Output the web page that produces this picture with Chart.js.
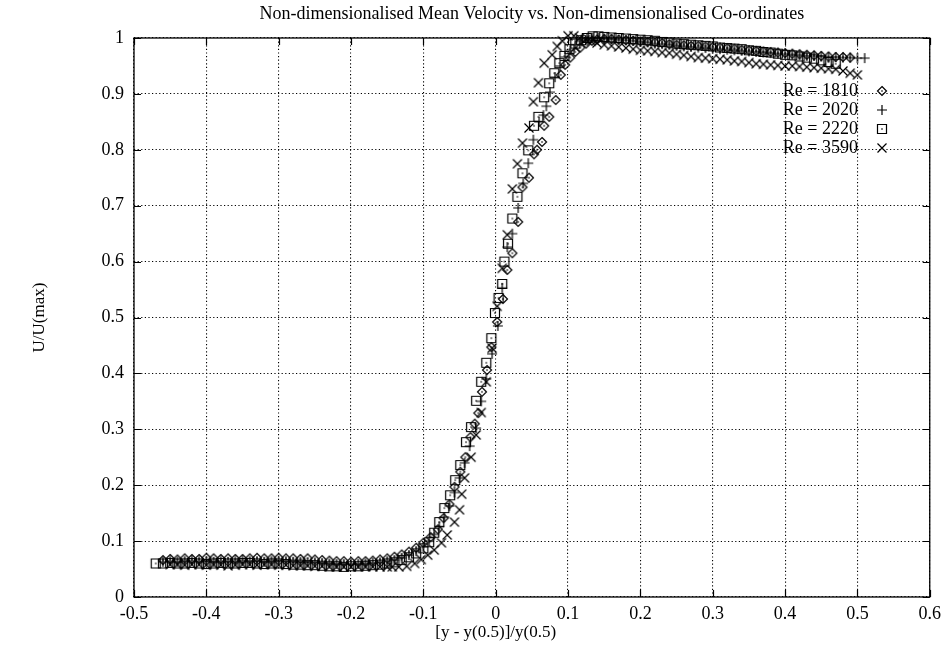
<!DOCTYPE html>
<html>
<head>
<meta charset="utf-8">
<script src="https://cdn.jsdelivr.net/npm/chart.js@4"></script>
<style>
  html, body { margin: 0; padding: 0; background: #fff; }
  #wrap { width: 947px; height: 648px; position: relative; }
</style>
</head>
<body>
<div id="wrap"><canvas id="velChart"></canvas></div>
<script>
const chartTitle = "Non-dimensionalised Mean Velocity vs. Non-dimensionalised Co-ordinates";
const xAxisTitle = "[y - y(0.5)]/y(0.5)";
const yAxisTitle = "U/U(max)";
const seriesLabels = ["Re = 1810", "Re = 2020", "Re = 2220", "Re = 3590"];
const xTickLabels = ["-0.5", "-0.4", "-0.3", "-0.2", "-0.1", "0", "0.1", "0.2", "0.3", "0.4", "0.5", "0.6"];
const yTickLabels = ["0", "0.1", "0.2", "0.3", "0.4", "0.5", "0.6", "0.7", "0.8", "0.9", "1"];

// [x, U/Umax] pairs
const re1810 = [[-0.46,0.066],[-0.45,0.068],[-0.44,0.067],[-0.43,0.069],[-0.42,0.068],[-0.41,0.068],[-0.40,0.070],[-0.39,0.069],[-0.38,0.068],[-0.37,0.069],[-0.36,0.068],[-0.35,0.068],[-0.34,0.069],[-0.33,0.070],[-0.32,0.069],[-0.31,0.069],[-0.30,0.070],[-0.29,0.069],[-0.28,0.069],[-0.27,0.068],[-0.26,0.069],[-0.25,0.067],[-0.24,0.066],[-0.23,0.065],[-0.22,0.064],[-0.21,0.064],[-0.20,0.063],[-0.19,0.064],[-0.18,0.064],[-0.17,0.065],[-0.16,0.067],[-0.15,0.069],[-0.14,0.072],[-0.13,0.076],[-0.12,0.081],[-0.11,0.088],[-0.10,0.097],[-0.09,0.107],[-0.08,0.121],[-0.072,0.141],[-0.064,0.166],[-0.057,0.197],[-0.049,0.224],[-0.042,0.250],[-0.035,0.286],[-0.029,0.310],[-0.024,0.329],[-0.019,0.367],[-0.012,0.406],[-0.006,0.447],[0.002,0.492],[0.010,0.533],[0.016,0.585],[0.023,0.615],[0.031,0.671],[0.037,0.733],[0.046,0.750],[0.053,0.792],[0.057,0.800],[0.064,0.814],[0.067,0.843],[0.074,0.859],[0.083,0.889],[0.090,0.934],[0.096,0.952],[0.103,0.965],[0.110,0.975],[0.117,0.983],[0.125,0.990],[0.133,0.995],[0.140,0.997],[0.150,0.998],[0.160,0.998],[0.170,0.997],[0.180,0.996],[0.190,0.995],[0.200,0.994],[0.210,0.993],[0.220,0.992],[0.230,0.991],[0.240,0.989],[0.250,0.988],[0.260,0.987],[0.270,0.986],[0.280,0.986],[0.290,0.985],[0.300,0.984],[0.310,0.983],[0.320,0.982],[0.330,0.981],[0.340,0.979],[0.350,0.978],[0.360,0.977],[0.370,0.976],[0.380,0.975],[0.390,0.974],[0.400,0.973],[0.410,0.972],[0.420,0.971],[0.430,0.970],[0.440,0.969],[0.450,0.968],[0.460,0.967],[0.470,0.966],[0.480,0.966],[0.490,0.965]];

const re2020 = [[-0.46,0.063],[-0.45,0.064],[-0.44,0.063],[-0.43,0.064],[-0.42,0.065],[-0.41,0.064],[-0.40,0.064],[-0.39,0.063],[-0.38,0.064],[-0.37,0.063],[-0.36,0.064],[-0.35,0.065],[-0.34,0.064],[-0.33,0.064],[-0.32,0.063],[-0.31,0.064],[-0.30,0.065],[-0.29,0.064],[-0.28,0.063],[-0.27,0.063],[-0.26,0.062],[-0.25,0.062],[-0.24,0.061],[-0.23,0.060],[-0.22,0.059],[-0.21,0.059],[-0.20,0.059],[-0.19,0.059],[-0.18,0.060],[-0.17,0.061],[-0.16,0.062],[-0.15,0.064],[-0.14,0.066],[-0.13,0.070],[-0.12,0.075],[-0.11,0.082],[-0.10,0.090],[-0.092,0.100],[-0.085,0.112],[-0.078,0.126],[-0.071,0.143],[-0.064,0.163],[-0.057,0.187],[-0.050,0.213],[-0.043,0.240],[-0.036,0.270],[-0.027,0.302],[-0.020,0.350],[-0.013,0.390],[-0.005,0.435],[0.003,0.485],[0.009,0.553],[0.016,0.626],[0.023,0.650],[0.031,0.696],[0.038,0.740],[0.045,0.776],[0.052,0.818],[0.060,0.850],[0.066,0.862],[0.070,0.878],[0.075,0.903],[0.082,0.930],[0.089,0.950],[0.096,0.966],[0.103,0.978],[0.110,0.988],[0.118,0.994],[0.126,0.998],[0.134,1.000],[0.142,1.000],[0.150,0.999],[0.160,0.998],[0.170,0.997],[0.180,0.996],[0.190,0.995],[0.200,0.993],[0.210,0.992],[0.220,0.990],[0.230,0.989],[0.240,0.988],[0.250,0.986],[0.260,0.985],[0.270,0.984],[0.280,0.983],[0.290,0.982],[0.300,0.981],[0.310,0.980],[0.320,0.979],[0.330,0.978],[0.340,0.977],[0.350,0.976],[0.360,0.975],[0.370,0.974],[0.380,0.973],[0.390,0.972],[0.400,0.971],[0.410,0.970],[0.420,0.969],[0.430,0.968],[0.440,0.968],[0.450,0.967],[0.460,0.966],[0.470,0.966],[0.480,0.965],[0.490,0.965],[0.500,0.964],[0.510,0.964]];

const re2220 = [[-0.47,0.060],[-0.46,0.060],[-0.45,0.061],[-0.44,0.060],[-0.43,0.060],[-0.42,0.061],[-0.41,0.060],[-0.40,0.059],[-0.39,0.060],[-0.38,0.061],[-0.37,0.060],[-0.36,0.060],[-0.35,0.061],[-0.34,0.061],[-0.33,0.060],[-0.32,0.059],[-0.31,0.060],[-0.30,0.060],[-0.29,0.059],[-0.28,0.058],[-0.27,0.058],[-0.26,0.057],[-0.25,0.057],[-0.24,0.056],[-0.23,0.055],[-0.22,0.055],[-0.21,0.054],[-0.20,0.055],[-0.19,0.055],[-0.18,0.056],[-0.17,0.057],[-0.16,0.058],[-0.15,0.060],[-0.14,0.062],[-0.13,0.066],[-0.12,0.071],[-0.11,0.078],[-0.10,0.087],[-0.092,0.098],[-0.085,0.115],[-0.078,0.134],[-0.071,0.159],[-0.063,0.182],[-0.056,0.209],[-0.049,0.236],[-0.041,0.277],[-0.034,0.304],[-0.027,0.351],[-0.020,0.385],[-0.013,0.419],[-0.006,0.463],[-0.001,0.508],[0.004,0.535],[0.009,0.560],[0.012,0.600],[0.017,0.632],[0.023,0.677],[0.030,0.716],[0.037,0.758],[0.045,0.799],[0.053,0.843],[0.059,0.859],[0.067,0.894],[0.074,0.919],[0.081,0.937],[0.088,0.955],[0.095,0.968],[0.102,0.980],[0.110,0.990],[0.118,0.996],[0.126,1.000],[0.134,1.003],[0.142,1.003],[0.150,1.002],[0.160,1.001],[0.170,1.000],[0.180,0.999],[0.190,0.998],[0.200,0.997],[0.210,0.996],[0.220,0.995],[0.230,0.993],[0.240,0.992],[0.250,0.990],[0.260,0.989],[0.270,0.988],[0.280,0.987],[0.290,0.986],[0.300,0.985],[0.310,0.983],[0.320,0.982],[0.330,0.981],[0.340,0.980],[0.350,0.978],[0.360,0.977],[0.370,0.975],[0.380,0.974],[0.390,0.972],[0.400,0.970],[0.410,0.969],[0.420,0.967],[0.430,0.965],[0.440,0.963],[0.450,0.960],[0.460,0.957],[0.470,0.954]];

const re3590 = [[-0.45,0.058],[-0.44,0.058],[-0.43,0.057],[-0.42,0.058],[-0.41,0.058],[-0.40,0.057],[-0.39,0.058],[-0.38,0.057],[-0.37,0.056],[-0.36,0.057],[-0.35,0.058],[-0.34,0.058],[-0.33,0.057],[-0.32,0.058],[-0.31,0.058],[-0.30,0.057],[-0.29,0.057],[-0.28,0.056],[-0.27,0.056],[-0.26,0.056],[-0.25,0.055],[-0.24,0.055],[-0.23,0.054],[-0.22,0.054],[-0.21,0.054],[-0.20,0.054],[-0.19,0.054],[-0.18,0.054],[-0.17,0.054],[-0.16,0.054],[-0.15,0.054],[-0.143,0.054],[-0.134,0.054],[-0.123,0.055],[-0.112,0.060],[-0.103,0.067],[-0.094,0.075],[-0.085,0.084],[-0.075,0.097],[-0.067,0.111],[-0.057,0.134],[-0.050,0.156],[-0.047,0.184],[-0.043,0.213],[-0.034,0.250],[-0.027,0.290],[-0.020,0.330],[-0.013,0.385],[-0.005,0.445],[0.002,0.520],[0.009,0.588],[0.016,0.648],[0.023,0.730],[0.030,0.775],[0.037,0.812],[0.046,0.839],[0.052,0.886],[0.059,0.920],[0.067,0.955],[0.078,0.970],[0.085,0.985],[0.092,0.995],[0.100,1.004],[0.108,1.004],[0.116,1.000],[0.124,0.997],[0.132,0.994],[0.140,0.991],[0.150,0.988],[0.160,0.986],[0.170,0.984],[0.180,0.982],[0.190,0.980],[0.200,0.978],[0.210,0.977],[0.220,0.976],[0.230,0.974],[0.240,0.973],[0.250,0.971],[0.260,0.969],[0.270,0.967],[0.280,0.965],[0.290,0.964],[0.300,0.963],[0.310,0.962],[0.320,0.961],[0.330,0.959],[0.340,0.958],[0.350,0.956],[0.360,0.954],[0.370,0.953],[0.380,0.952],[0.390,0.951],[0.400,0.950],[0.410,0.950],[0.420,0.949],[0.430,0.948],[0.440,0.947],[0.450,0.946],[0.460,0.945],[0.470,0.944],[0.480,0.941],[0.490,0.937],[0.500,0.934]];

const seriesData = [re1810, re2020, re2220, re3590];
const markerKinds = ["diamond", "plus", "square", "cross"];

const FONT = "'Liberation Serif', 'Times New Roman', serif";

// gnuplot style point markers drawn once onto small canvases
function makeMarker(kind) {
  const c = document.createElement("canvas");
  c.width = 14; c.height = 14;
  const g = c.getContext("2d");
  const m = 7;
  g.strokeStyle = "#000";
  g.fillStyle = "#000";
  g.lineWidth = 1.2;
  g.beginPath();
  if (kind === "diamond") {
    g.moveTo(m, m - 4.5); g.lineTo(m + 4.5, m); g.lineTo(m, m + 4.5); g.lineTo(m - 4.5, m); g.closePath();
  } else if (kind === "plus") {
    g.moveTo(m - 5, m); g.lineTo(m + 5, m); g.moveTo(m, m - 5); g.lineTo(m, m + 5);
  } else if (kind === "square") {
    g.rect(m - 4.5, m - 4.5, 9, 9);
  } else {
    g.moveTo(m - 4.5, m - 4.5); g.lineTo(m + 4.5, m + 4.5); g.moveTo(m + 4.5, m - 4.5); g.lineTo(m - 4.5, m + 4.5);
  }
  g.stroke();
  if (kind === "square" || kind === "diamond") g.fillRect(m - 0.7, m - 0.7, 1.4, 1.4);
  return c;
}
const markers = markerKinds.map(makeMarker);

const datasets = seriesData.map((pts, i) => ({
  label: seriesLabels[i],
  data: pts.map(p => ({ x: p[0], y: p[1] })),
  pointStyle: markers[i],
  pointRadius: 5,
  pointHoverRadius: 5,
  showLine: false,
  clip: false
}));

// frame, inward ticks, titles and key, done by hand like gnuplot
const gnuplotDecor = {
  id: "gnuplotDecor",
  beforeDatasetsDraw(chart) {
    const { ctx, chartArea: a, scales } = chart;
    ctx.save();
    ctx.strokeStyle = "#000";
    ctx.lineWidth = 1.3;
    ctx.strokeRect(a.left, a.top, a.right - a.left, a.bottom - a.top);
    ctx.lineWidth = 1.2;
    ctx.beginPath();
    scales.x.ticks.forEach(t => {
      const px = Math.round(scales.x.getPixelForValue(t.value)) + 0.5;
      ctx.moveTo(px, a.bottom); ctx.lineTo(px, a.bottom - 7);
      ctx.moveTo(px, a.top); ctx.lineTo(px, a.top + 7);
    });
    scales.y.ticks.forEach(t => {
      const py = Math.round(scales.y.getPixelForValue(t.value)) + 0.5;
      ctx.moveTo(a.left, py); ctx.lineTo(a.left + 7, py);
      ctx.moveTo(a.right, py); ctx.lineTo(a.right - 7, py);
    });
    ctx.stroke();
    ctx.restore();
  },
  afterDraw(chart) {
    const { ctx, chartArea: a, scales } = chart;
    ctx.save();
    ctx.fillStyle = "#000";
    ctx.textAlign = "center";
    ctx.textBaseline = "middle";
    ctx.font = "18px " + FONT;
    ctx.fillText(chartTitle, (a.left + a.right) / 2, 14);
    ctx.font = "17px " + FONT;
    ctx.fillText(xAxisTitle, scales.x.getPixelForValue(0), 633);
    ctx.save();
    ctx.translate(40, (a.top + a.bottom) / 2);
    ctx.rotate(-Math.PI / 2);
    ctx.fillText(yAxisTitle, 0, 0);
    ctx.restore();

    // key
    ctx.font = "18px " + FONT;
    ctx.textAlign = "right";
    const keyRows = [91, 110, 129, 148];
    seriesLabels.forEach((lab, i) => {
      ctx.fillText(lab, 858, keyRows[i]);
      ctx.drawImage(markers[i], 882 - 7, keyRows[i] - 7);
    });
    ctx.restore();
  }
};

const tickFont = { family: FONT, size: 18 };

new Chart(document.getElementById("velChart").getContext("2d"), {
  type: "scatter",
  data: { datasets: datasets },
  options: {
    responsive: true,
    maintainAspectRatio: false,
    animation: false,
    layout: { padding: { left: 0, top: 38, right: 15, bottom: 0 } },
    plugins: {
      legend: { display: false },
      title: { display: false },
      tooltip: { enabled: false }
    },
    scales: {
      x: {
        type: "linear",
        min: -0.5,
        max: 0.6,
        afterFit(scale) { scale.height = 51; },
        ticks: {
          stepSize: 0.1,
          color: "#000",
          font: tickFont,
          padding: 6,
          maxRotation: 0,
          autoSkip: false,
          callback: (v, i) => xTickLabels[i]
        },
        grid: { color: "#000", lineWidth: 1.1, drawTicks: false },
        border: { display: false, dash: [1.2, 2.4] }
      },
      y: {
        type: "linear",
        min: 0,
        max: 1,
        afterFit(scale) { scale.width = 134; },
        ticks: {
          stepSize: 0.1,
          color: "#000",
          font: tickFont,
          padding: 10,
          autoSkip: false,
          callback: (v, i) => yTickLabels[i]
        },
        grid: { color: "#000", lineWidth: 1.1, drawTicks: false },
        border: { display: false, dash: [1.2, 2.4] }
      }
    }
  },
  plugins: [gnuplotDecor]
});
</script>
</body>
</html>
